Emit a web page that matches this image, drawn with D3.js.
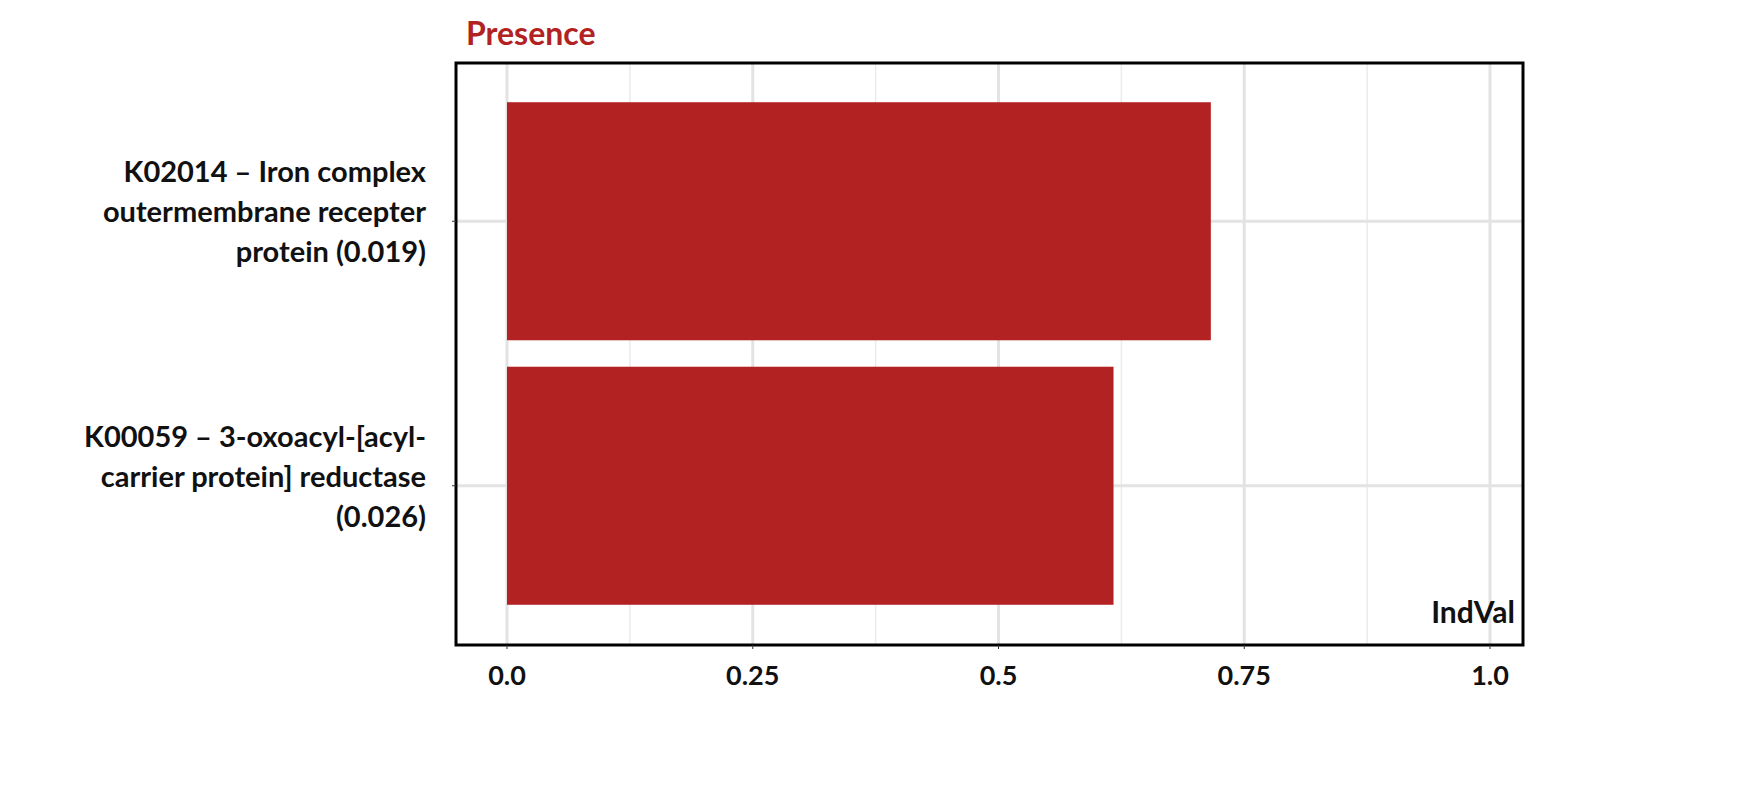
<!DOCTYPE html>
<html><head><meta charset="utf-8">
<script src="https://cdn.jsdelivr.net/npm/d3@7"></script>
<style>body{margin:0;background:#fff}text{font-family:Lato,"Open Sans",sans-serif;font-weight:bold}</style>
</head><body><div class="chart"></div>
<script>
var categories = [
  ["K02014 \u2013 Iron complex", "outermembrane recepter", "protein (0.019)"],
  ["K00059 \u2013 3-oxoacyl-[acyl-", "carrier protein] reductase", "(0.026)"]
];
var values = [0.716, 0.617];
var tickValues = [0, 0.25, 0.5, 0.75, 1.0];
var tickLabels = ["0.0", "0.25", "0.5", "0.75", "1.0"];

var W = 1749, H = 793,
    margin = {top: 63, right: 226, bottom: 148, left: 456},
    w = W - margin.left - margin.right,
    h = H - margin.top - margin.bottom,
    red = '#b22222';

var svg = d3.select('.chart').append('svg').attr('width', W).attr('height', H)
  .append('g').attr('transform', 'translate(' + margin.left + ',' + margin.top + ')');

var x = d3.scaleLinear().domain([0, 1]).range([51, 1034]);
var y = d3.scaleBand().domain(d3.range(categories.length)).range([26, h - 27])
  .paddingInner(0.1).paddingOuter(0.05);

// grid
svg.selectAll('.minor').data([0.125, 0.375, 0.625, 0.875]).enter().append('line')
  .attr('x1', x).attr('x2', x).attr('y1', 0).attr('y2', h)
  .attr('stroke', '#ebebeb').attr('stroke-width', 1.5);
svg.selectAll('.major').data(tickValues).enter().append('line')
  .attr('x1', x).attr('x2', x).attr('y1', 0).attr('y2', h)
  .attr('stroke', '#e3e3e3').attr('stroke-width', 3);
svg.selectAll('.hgrid').data(d3.range(categories.length)).enter().append('line')
  .attr('x1', 0).attr('x2', w)
  .attr('y1', function(d){ return y(d) + y.bandwidth() / 2; })
  .attr('y2', function(d){ return y(d) + y.bandwidth() / 2; })
  .attr('stroke', '#e3e3e3').attr('stroke-width', 3);

// bars
svg.selectAll('.bar').data(values).enter().append('rect')
  .attr('x', x(0)).attr('y', function(d, i){ return y(i); })
  .attr('width', function(d){ return x(d) - x(0); })
  .attr('height', y.bandwidth()).attr('fill', red);

// panel border
svg.append('rect').attr('x', 0).attr('y', 0).attr('width', w).attr('height', h)
  .attr('fill', 'none').attr('stroke', '#000').attr('stroke-width', 3);

// x ticks
svg.selectAll('.xt').data(tickValues).enter().append('text')
  .attr('x', x).attr('y', h + 40).attr('text-anchor', 'middle')
  .attr('font-size', 27).attr('fill', '#111')
  .text(function(d, i){ return tickLabels[i]; });
svg.selectAll('.xtick').data(tickValues).enter().append('line')
  .attr('x1', x).attr('x2', x).attr('y1', h).attr('y2', h + 4).attr('stroke', '#333');

// y labels
categories.forEach(function(lines, i){
  var cy = y(i) + y.bandwidth() / 2;
  var t = svg.append('text').attr('text-anchor', 'end').attr('font-size', 29).attr('fill', '#111');
  lines.forEach(function(l, j){
    t.append('tspan').attr('x', -30).attr('y', cy + (j - 1) * 40 - 40 + 41).text(l);
  });
  svg.append('line').attr('x1', -4).attr('x2', 0).attr('y1', cy).attr('y2', cy).attr('stroke', '#333');
});

svg.append('text').attr('x', 10).attr('y', -18).attr('font-size', 32).attr('fill', red).text('Presence');
svg.append('text').attr('x', w - 8).attr('y', h - 22).attr('text-anchor', 'end')
  .attr('font-size', 30).attr('fill', '#111').text('IndVal');
</script></body></html>
